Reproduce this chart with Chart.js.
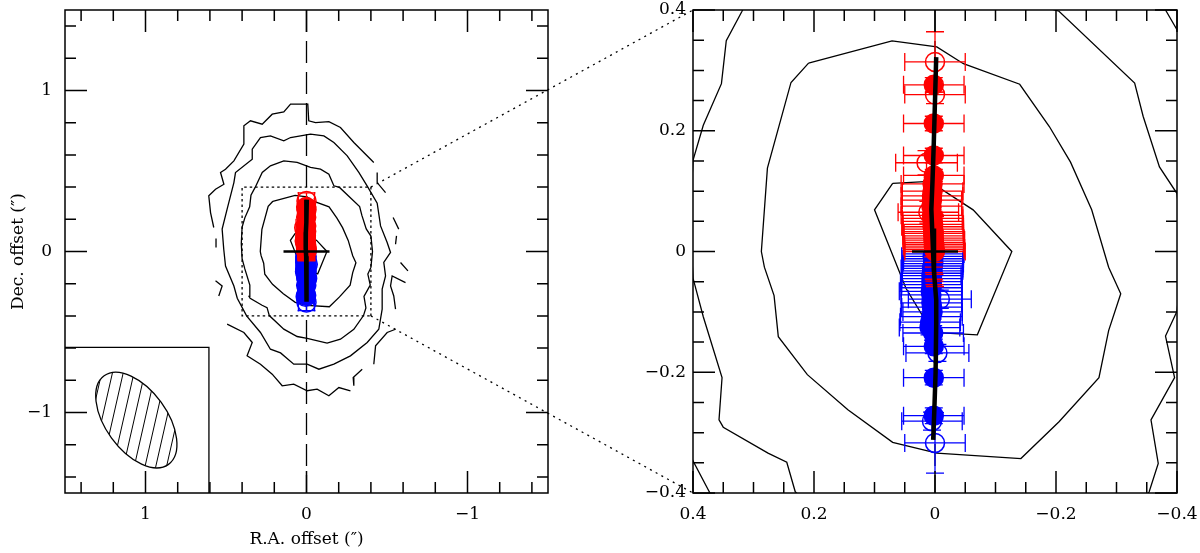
<!DOCTYPE html>
<html>
<head>
<meta charset="utf-8">
<script src="https://cdn.jsdelivr.net/npm/chart.js@4.4.0/dist/chart.umd.min.js"></script>
<style>
    html, body { margin: 0; padding: 0; background: #fff; }
    #wrap { position: relative; width: 1200px; height: 553px; }
    #wrap canvas { position: absolute; top: 0; }
    #left { left: 0; }
    #right { left: 600px; }
    #links { left: 0; pointer-events: none; }
</style>
</head>
<body>
<div id="wrap">
    <canvas id="left" width="600" height="553"></canvas>
    <canvas id="right" width="600" height="553"></canvas>
    <canvas id="links" width="1200" height="553"></canvas>
</div>
<script>
// Axis ranges and tick labels (arcsec)
const fullRange = [-1.5, 1.5];
const zoomRange = [-0.4, 0.4];
const fullTicks = [-1, 0, 1];
const zoomTicks = [-0.4, -0.2, 0, 0.2, 0.4];

// Contours [R.A. offset, Dec. offset], null = break in the line
const contour1 = [[0.070, 0.113], [0.009, 0.116], [-0.063, 0.069], [-0.127, 0.000], [-0.070, -0.138], [0.004, -0.134], [0.048, -0.061], [0.100, 0.069], [0.070, 0.113]];
const contour2 = [[0.209, 0.312], [0.071, 0.349], [-0.003, 0.339], [-0.047, 0.311], [-0.140, 0.277], [-0.189, 0.207], [-0.224, 0.148], [-0.259, 0.069], [-0.287, -0.026], [-0.307, -0.070], [-0.287, -0.131], [-0.271, -0.209], [-0.205, -0.282], [-0.142, -0.343], [-0.003, -0.334], [0.070, -0.316], [0.144, -0.262], [0.211, -0.204], [0.259, -0.141], [0.266, -0.073], [0.282, -0.026], [0.287, 0.000], [0.277, 0.138], [0.238, 0.280], [0.209, 0.312]];
const contour3 = [[0.405, 0.050], [0.400, 0.151], [0.383, 0.209], [0.353, 0.278], [0.345, 0.349], [0.319, 0.398], [0.275, 0.491], [0.224, 0.532], [0.141, 0.563], [0.058, 0.553], [-0.025, 0.522], [-0.087, 0.511], [-0.139, 0.480], [-0.170, 0.408], [-0.205, 0.398], [-0.330, 0.279], [-0.344, 0.224], [-0.371, 0.140], [-0.400, 0.096], [-0.410, 0.000], [-0.400, -0.099], [-0.381, -0.140], [-0.396, -0.209], [-0.357, -0.279], [-0.369, -0.351], [-0.354, -0.398], [-0.294, -0.483], [-0.211, -0.545], [-0.128, -0.569], [-0.004, -0.540], [0.058, -0.528], [0.141, -0.482], [0.231, -0.398], [0.245, -0.349], [0.276, -0.334], [0.350, -0.291], [0.357, -0.279], [0.352, -0.209], [0.383, -0.108], [0.400, -0.044], [0.405, 0.050]];
const contour4 = [[0.514, 0.014], [0.524, 0.139], [0.493, 0.263], [0.451, 0.428], [0.441, 0.490], [0.337, 0.573], [0.337, 0.636], [0.286, 0.708], [0.224, 0.718], [0.141, 0.687], [0.099, 0.708], [0.037, 0.718], [-0.025, 0.729], [-0.108, 0.718], [-0.170, 0.677], [-0.253, 0.594], [-0.325, 0.491], [-0.381, 0.400], [-0.439, 0.300], [-0.460, 0.159], [-0.501, 0.056], [-0.522, -0.006], [-0.480, -0.068], [-0.491, -0.152], [-0.470, -0.234], [-0.470, -0.358], [-0.449, -0.483], [-0.377, -0.565], [-0.273, -0.648], [-0.170, -0.700], [-0.077, -0.731], [-0.004, -0.700], [0.079, -0.700], [0.161, -0.630], [0.224, -0.607], [0.286, -0.503], [0.372, -0.400], [0.430, -0.290], [0.451, -0.214], [0.503, -0.090], [0.514, 0.014]];
const contour5 = [
    [0.576, 0.149], [0.596, 0.242], [0.607, 0.346], [0.565, 0.387], [0.513, 0.418], [0.534, 0.491], [0.503, 0.511], [0.451, 0.563], [0.389, 0.667], [0.389, 0.781], [0.348, 0.812], [0.275, 0.791], [0.213, 0.853], [0.141, 0.867], [0.099, 0.915], [-0.008, 0.915], [-0.014, 0.812], [-0.056, 0.801], [-0.139, 0.807], [-0.211, 0.770], [-0.294, 0.677], [-0.418, 0.553], null,
    [-0.439, 0.490], [-0.439, 0.428], [-0.491, 0.366], null,
    [-0.538, 0.211], [-0.573, 0.139], null,
    [-0.559, 0.097], [-0.553, 0.045], null,
    [-0.584, -0.068], [-0.630, -0.120], null,
    [-0.615, -0.193], [-0.532, -0.152], [-0.522, -0.214], [-0.542, -0.276], [-0.553, -0.358], null,
    [-0.553, -0.483], [-0.501, -0.503], [-0.429, -0.586], [-0.418, -0.700], null,
    [-0.346, -0.731], [-0.290, -0.783], [-0.294, -0.834], null,
    [-0.273, -0.865], [-0.201, -0.845], [-0.139, -0.896], [-0.066, -0.855], [-0.004, -0.865], [0.079, -0.824], [0.151, -0.834], [0.213, -0.762], [0.286, -0.700], [0.369, -0.648], [0.337, -0.565], [0.389, -0.503], [0.493, -0.451], null,
    [0.565, -0.182], [0.524, -0.214], [0.545, -0.276], null,
    [0.562, 0.080], [0.562, 0.025]
];

// Red-shifted positions
const redRA     = [0.000, 0.002, 0.000, 0.002, 0.002, 0.014, 0.002, 0.004, 0.004, 0.005, 0.005, 0.006, 0.011, 0.005, 0.004, 0.004, 0.003, 0.004, 0.003, 0.003, 0.002, 0.003, 0.002, 0.002, 0.002, 0.001, 0.002, 0.001, 0.001, 0.000];
const redDec    = [0.314, 0.276, 0.260, 0.212, 0.159, 0.147, 0.126, 0.112, 0.100, 0.092, 0.085, 0.075, 0.065, 0.060, 0.055, 0.050, 0.045, 0.041, 0.037, 0.033, 0.030, 0.026, 0.022, 0.019, 0.015, 0.012, 0.009, 0.006, 0.003, 0.000];
const redRAErr  = [0.050, 0.050, 0.050, 0.050, 0.050, 0.051, 0.050, 0.052, 0.050, 0.051, 0.049, 0.050, 0.050, 0.051, 0.050, 0.049, 0.050, 0.051, 0.050, 0.050, 0.049, 0.050, 0.050, 0.051, 0.050, 0.049, 0.050, 0.050, 0.049, 0.050];
const redDecErr = [0.050, 0.012, 0.015, 0.012, 0.012, 0.020, 0.010, 0.010, 0.012, 0.012, 0.014, 0.015, 0.018, 0.016, 0.018, 0.020, 0.022, 0.024, 0.026, 0.028, 0.030, 0.035, 0.040, 0.045, 0.050, 0.050, 0.055, 0.055, 0.058, 0.058];
const redOpen   = [1, 0, 1, 0, 0, 1, 0, 0, 0, 0, 0, 0, 1, 0, 0, 0, 0, 0, 0, 0, 0, 0, 0, 0, 0, 0, 0, 0, 0, 0];

// Blue-shifted positions
const blueRA     = [0.002, 0.004, 0.003, 0.003, 0.003, 0.004, 0.005, 0.004, 0.005, 0.006, 0.005, 0.006, 0.005, 0.006, 0.007, 0.006, -0.008, 0.006, 0.005, 0.004, 0.006, 0.008, 0.009, 0.003, 0.002, -0.004, 0.002, 0.002, 0.005, 0.000];
const blueDec    = [-0.004, -0.008, -0.012, -0.016, -0.020, -0.024, -0.028, -0.032, -0.036, -0.040, -0.045, -0.050, -0.055, -0.060, -0.066, -0.072, -0.079, -0.085, -0.092, -0.100, -0.108, -0.117, -0.126, -0.135, -0.157, -0.168, -0.209, -0.272, -0.281, -0.317];
const blueRAErr  = [0.050, 0.051, 0.050, 0.049, 0.050, 0.050, 0.051, 0.050, 0.050, 0.049, 0.050, 0.051, 0.050, 0.050, 0.052, 0.050, 0.052, 0.050, 0.050, 0.049, 0.051, 0.050, 0.050, 0.050, 0.050, 0.052, 0.050, 0.050, 0.050, 0.050];
const blueDecErr = [0.030, 0.028, 0.026, 0.024, 0.022, 0.020, 0.018, 0.016, 0.015, 0.014, 0.013, 0.012, 0.012, 0.012, 0.012, 0.012, 0.015, 0.012, 0.012, 0.012, 0.012, 0.012, 0.012, 0.012, 0.012, 0.014, 0.012, 0.013, 0.015, 0.050];
const blueOpen   = [0, 0, 0, 0, 0, 0, 0, 0, 0, 0, 0, 0, 0, 0, 0, 0, 1, 0, 0, 0, 0, 0, 0, 0, 0, 1, 0, 0, 1, 1];

// Fitted axis (thick black curve)
const fitRA  = [-0.002, 0.000, 0.002, 0.004, 0.006, 0.004, 0.002, -0.002, -0.002, -0.001, 0.001, 0.003];
const fitDec = [0.322, 0.250, 0.180, 0.120, 0.070, 0.020, -0.030, -0.080, -0.120, -0.200, -0.260, -0.312];

// Source position and beam
const centre = [0, 0];
const beamCentre = [1.057, -1.047];
const beamAxes = [0.34, 0.19];   // major, minor (arcsec)
const beamPA = 36;               // deg east of north
const beamBoxCorner = [0.606, -0.596];

const RED = '#ff0000';
const BLUE = '#0000ff';
const FONT = "'DejaVu Serif', serif";

function toPoints(list) {
    return list.map(p => p ? { x: p[0], y: p[1] } : { x: null, y: null });
}

function zip(xs, ys) {
    return xs.map((v, i) => ({ x: v, y: ys[i] }));
}

function fmt(v) {
    return v < 0 ? '\u2212' + String(-v) : String(v);
}

function lineSet(data, extra) {
    return Object.assign({
        data: data,
        showLine: true,
        borderColor: '#000',
        borderWidth: 1.3,
        pointRadius: 0,
        fill: false,
        spanGaps: false,
        order: 10
    }, extra || {});
}

function markerSet(ra, dec, raErr, decErr, open, color, order) {
    return {
        data: zip(ra, dec),
        showLine: false,
        errX: raErr,
        errY: decErr,
        pointStyle: 'circle',
        pointRadius: 9.5,
        pointBorderWidth: 1.5,
        borderColor: color,
        pointBorderColor: color,
        pointBackgroundColor: open.map(o => o ? 'rgba(0,0,0,0)' : color),
        order: order
    };
}

// Error bars are drawn just under each marker dataset
const errorBarPlugin = {
    id: 'errorBars',
    beforeDatasetDraw(chart, args) {
        const ds = chart.data.datasets[args.index];
        if (!ds.errX) return;
        const { ctx, chartArea: a, scales: { x, y } } = chart;
        const cap = 9;
        ctx.save();
        ctx.beginPath();
        ctx.rect(a.left, a.top, a.width, a.height);
        ctx.clip();
        ctx.strokeStyle = ds.borderColor;
        ctx.lineWidth = 1.3;
        ds.data.forEach((p, i) => {
            const px = x.getPixelForValue(p.x);
            const py = y.getPixelForValue(p.y);
            const x1 = x.getPixelForValue(p.x - ds.errX[i]);
            const x2 = x.getPixelForValue(p.x + ds.errX[i]);
            const y1 = y.getPixelForValue(p.y - ds.errY[i]);
            const y2 = y.getPixelForValue(p.y + ds.errY[i]);
            ctx.beginPath();
            ctx.moveTo(x1, py); ctx.lineTo(x2, py);
            ctx.moveTo(x1, py - cap); ctx.lineTo(x1, py + cap);
            ctx.moveTo(x2, py - cap); ctx.lineTo(x2, py + cap);
            ctx.moveTo(px, y1); ctx.lineTo(px, y2);
            ctx.moveTo(px - cap, y1); ctx.lineTo(px + cap, y1);
            ctx.moveTo(px - cap, y2); ctx.lineTo(px + cap, y2);
            ctx.stroke();
        });
        ctx.restore();
    }
};

// Box with inward ticks on all four sides
const framePlugin = {
    id: 'frame',
    afterDatasetsDraw(chart, args, opts) {
        const { ctx, chartArea: a, scales: { x, y } } = chart;
        const isMajor = v => Math.abs(v / opts.major - Math.round(v / opts.major)) < 1e-6;
        const steps = (min, max) => {
            const out = [];
            for (let n = Math.ceil(min / opts.minor - 1e-6); n * opts.minor <= max + 1e-9; n++) out.push(n * opts.minor);
            return out;
        };
        ctx.save();
        ctx.strokeStyle = '#000';
        ctx.lineWidth = 1.5;
        ctx.setLineDash([]);
        ctx.strokeRect(a.left, a.top, a.width, a.height);
        ctx.beginPath();
        steps(x.min, x.max).forEach(v => {
            const px = x.getPixelForValue(v);
            const len = isMajor(v) ? 22 : 11;
            ctx.moveTo(px, a.bottom); ctx.lineTo(px, a.bottom - len);
            ctx.moveTo(px, a.top); ctx.lineTo(px, a.top + len);
        });
        steps(y.min, y.max).forEach(v => {
            const py = y.getPixelForValue(v);
            const len = isMajor(v) ? 22 : 11;
            ctx.moveTo(a.left, py); ctx.lineTo(a.left + len, py);
            ctx.moveTo(a.right, py); ctx.lineTo(a.right - len, py);
        });
        ctx.stroke();
        ctx.restore();
    }
};

// Hatched beam ellipse in the inset
const beamPlugin = {
    id: 'beam',
    afterDatasetsDraw(chart) {
        const { ctx, scales: { x, y } } = chart;
        const cx = x.getPixelForValue(beamCentre[0]);
        const cy = y.getPixelForValue(beamCentre[1]);
        const k = Math.abs(x.getPixelForValue(1) - x.getPixelForValue(0));
        const a = beamAxes[0] * k;
        const b = beamAxes[1] * k;
        const pa = beamPA * Math.PI / 180;
        const rot = Math.atan2(-Math.cos(pa), -Math.sin(pa));
        ctx.save();
        ctx.beginPath();
        ctx.ellipse(cx, cy, a, b, rot, 0, 2 * Math.PI);
        ctx.strokeStyle = '#000';
        ctx.lineWidth = 1.3;
        ctx.stroke();
        ctx.clip();
        const ang = 12.8 * Math.PI / 180;
        const dx = Math.sin(ang), dy = -Math.cos(ang);
        const nx = Math.cos(ang), ny = Math.sin(ang);
        ctx.beginPath();
        for (let s = -a; s <= a; s += 10.5) {
            const px = cx + nx * s, py = cy + ny * s;
            ctx.moveTo(px - dx * a, py - dy * a);
            ctx.lineTo(px + dx * a, py + dy * a);
        }
        ctx.lineWidth = 1;
        ctx.stroke();
        ctx.restore();
    }
};

function buildDatasets(range, withInset) {
    const sets = [
        lineSet(toPoints(contour1)),
        lineSet(toPoints(contour2)),
        lineSet(toPoints(contour3)),
        lineSet(toPoints(contour4)),
        lineSet(toPoints(contour5)),
        lineSet([{ x: centre[0], y: range[1] }, { x: centre[0], y: range[0] }], { borderDash: [22, 9], order: 9 })
    ];
    if (withInset) {
        sets.push(lineSet(toPoints([
            [zoomRange[0], zoomRange[0]], [zoomRange[0], zoomRange[1]],
            [zoomRange[1], zoomRange[1]], [zoomRange[1], zoomRange[0]], [zoomRange[0], zoomRange[0]]
        ]), { borderDash: [2.5, 3], order: 9 }));
        sets.push(lineSet(toPoints([
            [beamBoxCorner[0], fullRange[0]], [beamBoxCorner[0], beamBoxCorner[1]], [fullRange[1], beamBoxCorner[1]]
        ]), { order: 9 }));
    }
    sets.push(markerSet(blueRA, blueDec, blueRAErr, blueDecErr, blueOpen, BLUE, 6));
    sets.push(markerSet(redRA, redDec, redRAErr, redDecErr, redOpen, RED, 5));
    sets.push(lineSet(zip(fitRA, fitDec), { borderWidth: 4.5, order: 2 }));
    sets.push({
        data: [{ x: centre[0], y: centre[1] }],
        showLine: false,
        pointStyle: 'cross',
        pointRadius: 23,
        pointBorderWidth: 2.5,
        pointBorderColor: '#000',
        order: 1
    });
    return sets;
}

function buildOptions(cfg) {
    const tickFont = { family: FONT, size: 17 };
    return {
        responsive: false,
        animation: false,
        events: [],
        layout: { padding: cfg.padding, autoPadding: false },
        plugins: {
            legend: { display: false },
            tooltip: { enabled: false },
            frame: { minor: cfg.minor, major: cfg.major }
        },
        scales: {
            x: {
                type: 'linear',
                reverse: true,
                min: cfg.range[0],
                max: cfg.range[1],
                afterBuildTicks: s => { s.ticks = cfg.ticks.map(v => ({ value: v })); },
                afterFit: s => { s.height = 60; s.paddingLeft = 0; s.paddingRight = 0; },
                grid: { display: false, drawTicks: false },
                border: { display: false },
                ticks: { padding: 11, color: '#000', font: tickFont, maxRotation: 0, autoSkip: false, callback: fmt },
                title: { display: !!cfg.xTitle, text: cfg.xTitle || '', color: '#000', font: tickFont, padding: { top: 0, bottom: 3 } }
            },
            y: {
                type: 'linear',
                min: cfg.range[0],
                max: cfg.range[1],
                afterBuildTicks: s => { s.ticks = cfg.ticks.map(v => ({ value: v })); },
                afterFit: s => { s.width = cfg.yWidth; s.paddingTop = 0; s.paddingBottom = 0; },
                grid: { display: false, drawTicks: false },
                border: { display: false },
                ticks: { padding: cfg.yPad, color: '#000', font: tickFont, autoSkip: false, callback: fmt },
                title: { display: !!cfg.yTitle, text: cfg.yTitle || '', color: '#000', font: tickFont, padding: { top: 8, bottom: 0 } }
            }
        }
    };
}

const leftChart = new Chart(document.getElementById('left'), {
    type: 'scatter',
    data: { datasets: buildDatasets(fullRange, true) },
    options: buildOptions({
        range: fullRange, ticks: fullTicks, minor: 0.2, major: 1,
        padding: { left: 0, top: 10, right: 52, bottom: 0 },
        yWidth: 65, yPad: 13,
        xTitle: 'R.A. offset (\u2033)', yTitle: 'Dec. offset (\u2033)'
    }),
    plugins: [errorBarPlugin, beamPlugin, framePlugin]
});

const rightChart = new Chart(document.getElementById('right'), {
    type: 'scatter',
    data: { datasets: buildDatasets(zoomRange, false) },
    options: buildOptions({
        range: zoomRange, ticks: zoomTicks, minor: 0.05, major: 0.2,
        padding: { left: 0, top: 10, right: 23, bottom: 0 },
        yWidth: 93, yPad: 7
    }),
    plugins: [errorBarPlugin, framePlugin]
});

// Dotted lines joining the zoom box to the right-hand panel
function drawLinks() {
    const ctx = document.getElementById('links').getContext('2d');
    const off = rightChart.canvas.offsetLeft - leftChart.canvas.offsetLeft;
    ctx.strokeStyle = '#000';
    ctx.lineWidth = 1.3;
    ctx.setLineDash([2, 4.5]);
    zoomRange.forEach(dec => {
        ctx.beginPath();
        ctx.moveTo(leftChart.scales.x.getPixelForValue(zoomRange[0]), leftChart.scales.y.getPixelForValue(dec));
        ctx.lineTo(off + rightChart.scales.x.getPixelForValue(zoomRange[1]), rightChart.scales.y.getPixelForValue(dec));
        ctx.stroke();
    });
}
drawLinks();
</script>
</body>
</html>
